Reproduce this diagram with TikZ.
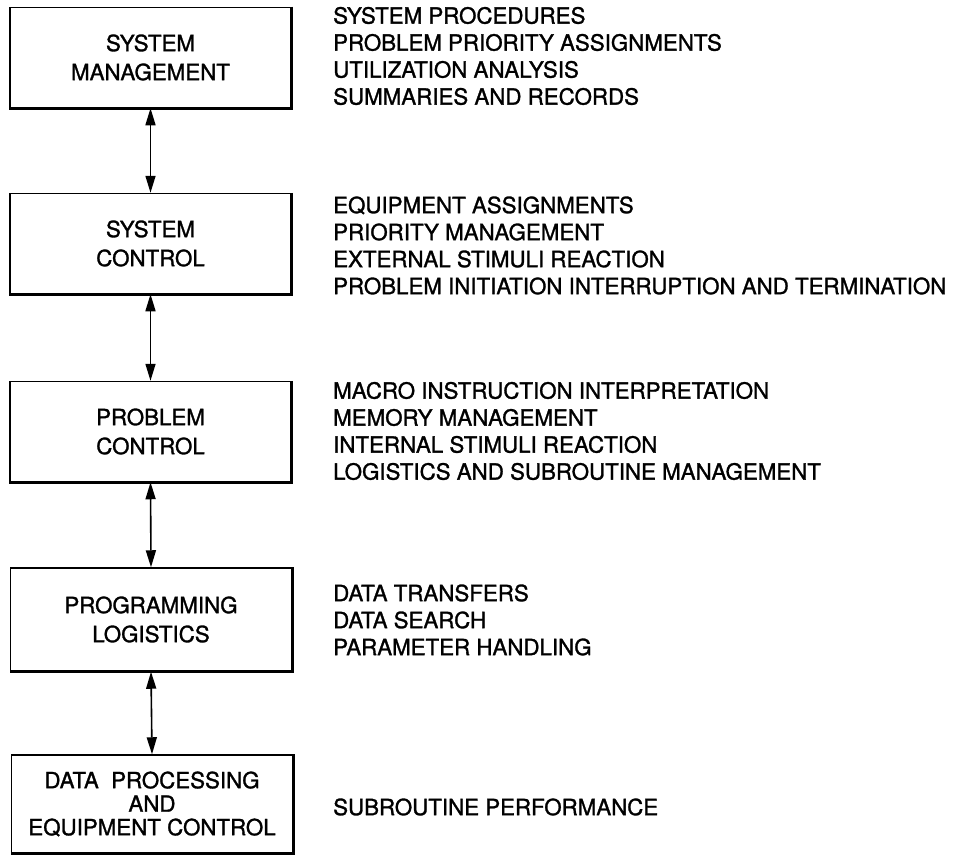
\documentclass[tikz,border=0pt]{standalone}
\usepackage{fontspec}
\setmainfont{TeX Gyre Heros}[FakeBold=1.3]
\usetikzlibrary{arrows.meta}
\usetikzlibrary{shapes}

\tikzset{
	levelbox/.style={draw, line width=1.5pt, minimum width=281pt,
		minimum height=100pt, align=center, inner sep=0pt,
		font=\fontsize{22.3}{29}\selectfont},
	duties/.style={anchor=west, align=left, inner sep=0pt,
		font=\fontsize{22.3}{27}\selectfont},
	link/.style={{Triangle[length=17pt,width=10pt]}-{Triangle[length=17pt,width=10pt]},
		line width=1.6pt}
}

\begin{document}
\begin{tikzpicture}[x=1pt, y=-1pt]
			\useasboundingbox (0,0) rectangle (957,856);
			%% The levels
			\node[levelbox] (sysman) at (150.5,57.5)
				{SYSTEM\\MANAGEMENT};
			\node[levelbox] (sysctl) at (150.5,243.5)
				{SYSTEM\\CONTROL};
			\node[levelbox] (probctl) at (150.5,431.5)
				{PROBLEM\\CONTROL};
			\node[levelbox, minimum height=103pt] (proglog) at (151,619.5)
				{PROGRAMMING\\LOGISTICS};
			\node[levelbox, minimum height=98pt,
				font=\fontsize{22.3}{23.5}\selectfont] (dataproc) at (152,804)
				{DATA\ \ PROCESSING\\AND\\EQUIPMENT CONTROL};
			%% heavier lower and right edges
			\foreach \n in {sysman,sysctl,probctl,proglog,dataproc}
				\draw[line width=3.2pt] (\n.north east) -- (\n.south east)
					-- (\n.south west);
			%% The links
			\draw[link] (sysman.south) -- (sysctl.north);
			\draw[link] (sysctl.south) -- (probctl.north);
			\draw[link] (probctl.south) -- (proglog.north);
			\draw[link] (proglog.south) -- (dataproc.north);
			%% The duties of each level
			\node[duties] (sysmantxt) at (333,56)
				{SYSTEM PROCEDURES\\PROBLEM PRIORITY ASSIGNMENTS\\
				UTILIZATION ANALYSIS\\SUMMARIES AND RECORDS};
			\node[duties] (sysctltxt) at (333,245.5)
				{EQUIPMENT ASSIGNMENTS\\PRIORITY MANAGEMENT\\
				EXTERNAL STIMULI REACTION\\
				PROBLEM INITIATION INTERRUPTION AND TERMINATION};
			\node[duties] (probctltxt) at (333,431)
				{MACRO INSTRUCTION INTERPRETATION\\MEMORY MANAGEMENT\\
				INTERNAL STIMULI REACTION\\
				LOGISTICS AND SUBROUTINE MANAGEMENT};
			\node[duties] (proglogtxt) at (333,620)
				{DATA TRANSFERS\\DATA SEARCH\\PARAMETER HANDLING};
			\node[duties] (dataproctxt) at (333,807)
				{SUBROUTINE PERFORMANCE};
		\end{tikzpicture}
\end{document}
